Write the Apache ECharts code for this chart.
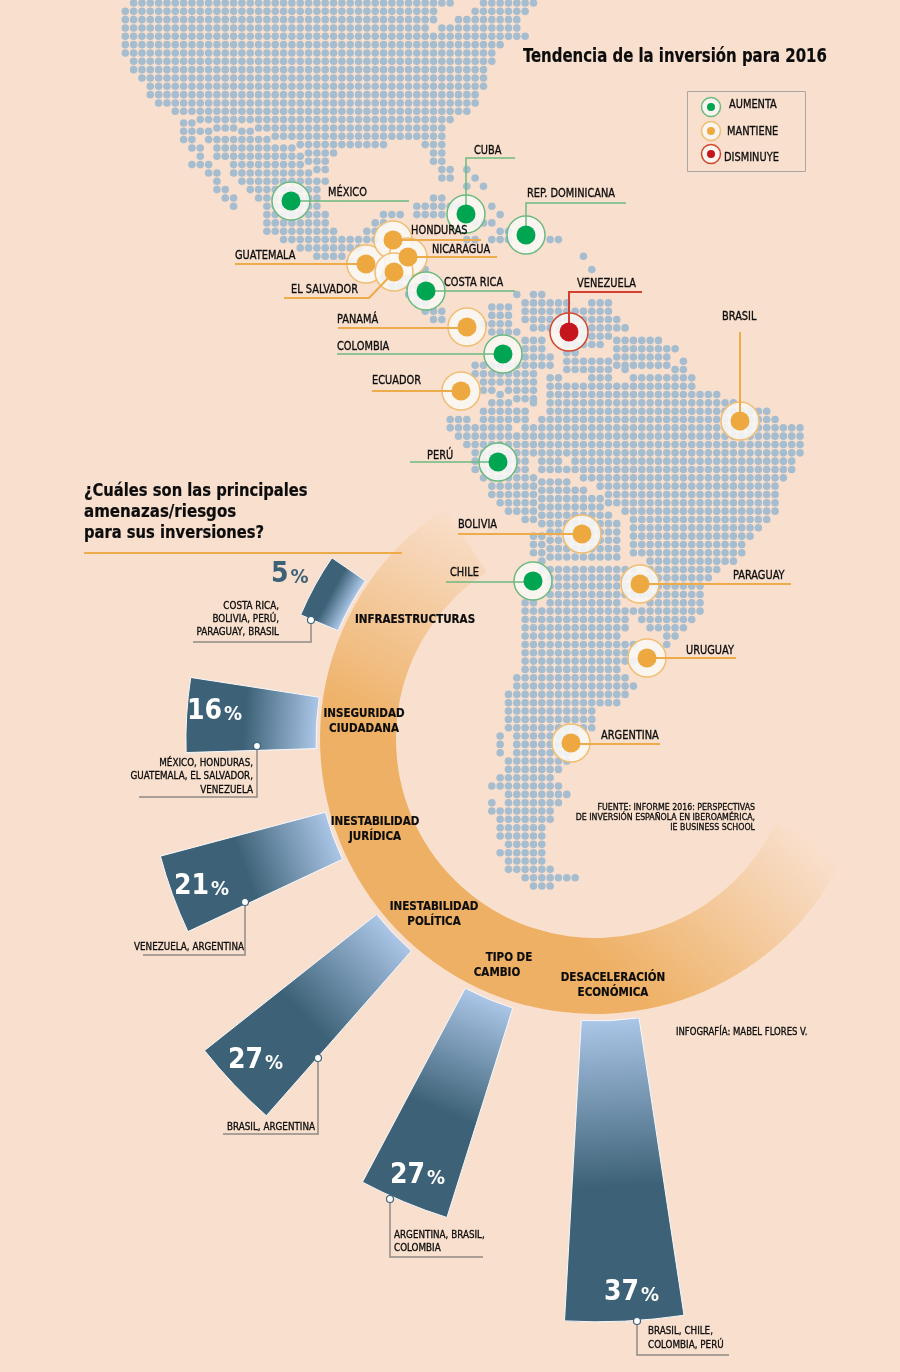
<!DOCTYPE html>
<html>
<head>
<meta charset="utf-8">
<title>Tendencia de la inversión para 2016</title>
<script src="https://cdn.jsdelivr.net/npm/echarts@6/dist/echarts.min.js"></script>
<style>
html,body{margin:0;padding:0;background:#F9E0CE}
#chart{width:900px;height:1372px}
</style>
</head>
<body>
<div id="chart"></div>
<script>
// dot map cells: [row, from, to, from, to ...]
var landRows = [
[0,1,39,43,49],[1,0,37,42,48],[2,0,37,40,47],[3,0,36,38,47],[4,0,48],[5,0,45],[6,0,44],[7,1,44],[8,1,43],[9,2,43],
[10,3,43],[11,3,42],[12,4,42],[13,6,41],[14,9,39],[14.4,7,8],[15,11,13,16,38],[15.4,7,10,14,15],[16,18,38],[16.4,7,8,10,17],
[17,21,31,36,38],[17.4,8,9,11,20],[18,22,25,37,38],[18.4,9,9,11,21],[19,22,24,37,38],[19.4,8,10,13,21],
[20,23,24,38,39,41,41],[20.4,10,11,13,22],[21,38,39,42,42],[21.4,11,11,14,24],[22,41,41,43,43],[22.4,11,12,15,23],
[23.4,12,13,16,23,37,38],[24.4,13,13,17,23,35,40,44,44],[25.4,17,24,31,33,35,38,45,45],[26.4,17,24,30,31,42,44],
[27.4,17,25,29,30,45,46],[28.4,19,30,41,42,44,46,51,52],[29.4,21,28],[30.4,23,26,55,55],[31,27,29],[32,29,32,36,36,56,56],
[33,31,34,36,36],[34,32,35],[35,34,36,47,47,49,50],[36,35,36,48,53,56,58],[36.5,44,46],[37,36,38,48,58],[37.5,44,46],
[38,37,38,48,59],[38.5,43,46],[39,49,60],[39.5,44,47],[40,53,58],[40.5,48,50,59,64],[41,53,57],[41.5,48,50,59,66],
[42,53,54],[42.5,48,51,59,65],[43,53,58,67,67],[43.5,42,51,59,65],[44,53,58,60,60,66,67],[44.5,42,49],
[45,51,52,56,58,61,68],[45.5,43,49],[46,51,68],[46.5,43,44,46,49],[47,45,45,51,71],[47.5,47,49],[48,44,46,49,49,51,73],
[49,43,48,51,77],[50,39,41,43,48,50,78],[51,39,46,48,81],[52,40,81],[53,41,81],[54,42,81],[55,42,48,50,52,54,80],
[56,42,48,50,80],[57,43,49,55,79],[57.5,50,53],[58,44,49,57,78],[58.5,50,55],[59,44,49,58,78],[59.5,50,57],
[60,45,49,58,78],[60.5,50,57],[61,46,49,60,78],[61.5,50,58],[62,48,49,61,77],[62.5,50,59],[63,61,76],[63.5,51,59],
[64,49,50,61,75],[64.5,51,59],[65,49,50,61,74],[65.5,51,59],[66,49,50,61,74],[66.5,51,59],[67,50,50,63,73],
[68,50,61,63,71],[69,51,70],[70,51,60,62,69],[71,51,69],[72,48,49,51,59,63,69],[73,48,69],
[74,48,60,62,68],[75,48,60,63,67],[76,48,59,65,66],[77,48,61,65,65],[78,48,60],[79,48,62],[80,48,59],[81,47,60],
[82,47,61],[83,46,60],[84,46,59],[85,46,56],[86,46,56],[87,46,56],[88,45,45,47,54],[89,45,45,47,54],[90,45,45,47,53],
[91,46,53],[92,46,52],[93,45,51],[94,44,52],[95,46,53],[96,44,44,46,52],[97,44,51],[98,45,51],[99,45,50],[100,45,50],
[101,46,50],[102,45,50],[103,46,50],[104,46,51],[105,48,54],[106,49,51]
];

var countryNames = ['MÉXICO','CUBA','REP. DOMINICANA','GUATEMALA','HONDURAS','NICARAGUA','EL SALVADOR','COSTA RICA','PANAMÁ','COLOMBIA','VENEZUELA','ECUADOR','BRASIL','PERÚ','BOLIVIA','CHILE','PARAGUAY','URUGUAY','ARGENTINA'];
var countryTrend = ['up','up','up','same','same','same','same','up','same','up','down','same','same','up','same','up','same','same','same'];
var countryX = [291,466,526,366,393,408,394,426,467,503,569,461,740,498,582,533,640,647,571];
var countryY = [201,214,235,264,240,257,272,291,327,354,332,391,421,462,534,581,584,658,743];
// label left edge and middle for each country
var labelX = [328,474,527,235,411,432,291,444,337,337,577,372,722,427,458,450,733,686,601];
var labelY = [193,151,194,256,231,250,290,283,320,347,284,381,317,456,525,573,576,651,736];
// leader paths drawn from the marker out to the label rule
var leaderPaths = [
[[300,201],[409,201]],[[466,214],[466,158],[515,158]],[[526,235],[526,203],[626,203]],[[235,264],[366,264]],
[[393,240],[481,240]],[[408,257],[497,257]],[[284,298],[369,298],[394,272]],[[426,291],[515,291]],[[338,328],[467,328]],
[[337,354],[503,354]],[[569,332],[569,292],[642,292]],[[372,391],[461,391]],[[740,421],[740,332]],[[410,462],[498,462]],
[[458,534],[582,534]],[[446,582],[533,582]],[[640,584],[791,584]],[[647,658],[736,658]],[[571,744],[660,744]]
];

var trendKeys = ['up','same','down'];
var trendNames = ['AUMENTA','MANTIENE','DISMINUYE'];

var threatNames = ['INFRAESTRUCTURAS','INSEGURIDAD CIUDADANA','INESTABILIDAD JURÍDICA','INESTABILIDAD POLÍTICA','TIPO DE CAMBIO','DESACELERACIÓN ECONÓMICA'];
var threatShares = [5,16,21,27,27,37];
var threatCountries = [
['COSTA RICA,','BOLIVIA, PERÚ,','PARAGUAY, BRASIL'],
['MÉXICO, HONDURAS,','GUATEMALA, EL SALVADOR,','VENEZUELA'],
['VENEZUELA, ARGENTINA'],
['BRASIL, ARGENTINA'],
['ARGENTINA, BRASIL,','COLOMBIA'],
['BRASIL, CHILE,','COLOMBIA, PERÚ']
];
// where each wedge points and how wide it opens, degrees
var barAngles = [151.3,176.5,200,223.5,247.3,272.7];
var barSpreads = [11.6,10.5,10.2,10.3,10.5,11.8];

var FONT = '"DejaVu Sans Condensed"';
var trendDot = {up:'#00A551',same:'#EDA93F',down:'#C4161C'};
var trendRing = {up:'#6CBA80',same:'#F0BD72',down:'#D2452F'};
var trendLine = {up:'#6CBA80',same:'#EDAB4A',down:'#D2402F'};
var BG = '#F9E0CE', RING = '#EEB064', STEEL = '#3D6277';
var RING_CLEAR = 'rgba(238,176,100,0)';

// polar frame shared by the bars
var cx = 597, cy = 740, rBase = 281, pxPerPct = 8.13;

var landData = [];
landRows.forEach(function(r){
	for(var i=1;i<r.length;i+=2){
		for(var c=r[i];c<=r[i+1];c++) landData.push([c,r[0]]);
	}
});

function barGradient(i,v){
	var a = barAngles[i]*Math.PI/180;
	var r2 = rBase+v*pxPerPct;
	return new echarts.graphic.LinearGradient(
		cx+rBase*Math.cos(a),cy-rBase*Math.sin(a),cx+r2*Math.cos(a),cy-r2*Math.sin(a),
		[{offset:0,color:'#AAC5E6'},{offset:0.55,color:STEEL},{offset:1,color:STEEL}],true);
}
function ringFade(x,y,x2,y2,from,to){
	return new echarts.graphic.LinearGradient(x,y,x2,y2,[{offset:0,color:from},{offset:1,color:to}],true);
}

var texts = [];
function label(x,y,str,size,opt){
	opt = opt||{};
	var fill = opt.fill||'#0c0c0c';
	texts.push({type:'text',z:50,x:x,y:y,scaleX:opt.sx||1,silent:true,style:{
		text:str,
		fill:fill,
		stroke:fill,
		lineWidth:opt.bold?0.2:0.3,
		font:(opt.bold?'bold ':'')+size+'px '+FONT,
		align:opt.align||'left',
		verticalAlign:'middle'
	}});
}

countryNames.forEach(function(n,i){ label(labelX[i],labelY[i],n,11.5,{sx:0.95}); });

label(523,57,'Tendencia de la inversión para 2016',20,{bold:true,sx:0.83});
label(84,491,'¿Cuáles son las principales',18,{bold:true,sx:0.91});
label(84,512,'amenazas/riesgos',18,{bold:true,sx:0.93});
label(84,533,'para sus inversiones?',18,{bold:true,sx:0.91});

label(729,105,trendNames[0],11.5,{sx:0.95});
label(727,132,trendNames[1],11.5,{sx:0.95});
label(724,158,trendNames[2],11.5,{sx:0.95});

// ring captions
var ringCap = {bold:true,align:'center',sx:0.96};
label(415,620,'INFRAESTRUCTURAS',12,ringCap);
label(364,714,'INSEGURIDAD',12,ringCap);
label(364,729,'CIUDADANA',12,ringCap);
label(375,822,'INESTABILIDAD',12,ringCap);
label(375,837,'JURÍDICA',12,ringCap);
label(434,907,'INESTABILIDAD',12,ringCap);
label(434,922,'POLÍTICA',12,ringCap);
label(509,958,'TIPO DE',12,ringCap);
label(497,973,'CAMBIO',12,ringCap);
label(613,978,'DESACELERACIÓN',12,ringCap);
label(613,993,'ECONÓMICA',12,ringCap);

// percentages
var pctX = [271,187,174,228,390,604];
var pctY = [575,712,887,1061,1176,1293];
threatShares.forEach(function(v,i){
	var col = i===0?STEEL:'#fff';
	texts.push({type:'text',z:50,x:pctX[i],y:pctY[i],silent:true,style:{
		text:'{n|'+v+'}{p|%}',
		verticalAlign:'middle',
		rich:{
			n:{font:'bold 28px '+FONT,fill:col},
			p:{font:'bold 20px '+FONT,fill:col,padding:[6,0,0,2]}
		}
	}});
});

// country lists under each bar
var listX = [279,253,244,315,394,648];
var listAlign = ['right','right','right','right','left','left'];
var listY = [606,763,947,1127,1235,1331];
var listStep = [13,13.5,0,0,13,14];
threatCountries.forEach(function(lines,i){
	lines.forEach(function(t,j){
		label(listX[i],listY[i]+j*listStep[i],t,10.5,{align:listAlign[i],sx:0.93});
	});
});
var calloutPaths = [
[[311,620],[311,642],[193,642]],
[[257,746],[257,797],[139,797]],
[[245,902],[245,955],[143,955]],
[[318,1058],[318,1134],[223,1134]],
[[390,1199],[390,1257],[483,1257]],
[[637,1321],[637,1355],[729,1355]]
];

label(755,808,'FUENTE: INFORME 2016: PERSPECTIVAS',9.5,{align:'right',sx:0.92});
label(755,817.5,'DE INVERSIÓN ESPAÑOLA EN IBEROAMÉRICA,',9.5,{align:'right',sx:0.92});
label(755,827.5,'IE BUSINESS SCHOOL',9.5,{align:'right',sx:0.92});
label(676,1032,'INFOGRAFÍA: MABEL FLORES V.',10.5,{sx:0.9});

texts.push({type:'rect',z:3,silent:true,shape:{x:687.5,y:91.5,width:118,height:80},style:{fill:'transparent',stroke:'#ABA6A1',lineWidth:1}});

function pathLines(z,data){
	return {type:'lines',z:z,silent:true,coordinateSystem:'cartesian2d',xAxisIndex:1,yAxisIndex:1,polyline:true,data:data};
}
function ringPart(start,sweep,fill){
	return {
		type:'pie',z:1,silent:true,center:[595,739],radius:[199,275],startAngle:start,clockwise:false,
		label:{show:false},labelLine:{show:false},
		data:[{value:sweep,itemStyle:{color:fill}},{value:360-sweep,itemStyle:{color:'transparent'}}]
	};
}

// every wedge has its own polar frame so it can point and open on its own
var polars = [], angleAxes = [], radiusAxes = [], barSeries = [];
threatShares.forEach(function(v,i){
	polars.push({center:[cx,cy],radius:rBase+40*pxPerPct});
	angleAxes.push({polarIndex:i,type:'category',data:[threatNames[i]],startAngle:barAngles[i]-180,clockwise:false,show:false});
	radiusAxes.push({polarIndex:i,type:'value',min:-rBase/pxPerPct,max:40,show:false});
	barSeries.push({
		type:'bar',z:3,silent:true,coordinateSystem:'polar',polarIndex:i,barWidth:(barSpreads[i]/3.6)+'%',
		itemStyle:{borderColor:'#F5F8FB',borderWidth:1},
		data:[{value:v,itemStyle:{color:barGradient(i,v)}}]
	});
});

var chart = echarts.init(document.getElementById('chart'),null,{renderer:'canvas'});
chart.setOption({
	animation:false,
	backgroundColor:BG,
	tooltip:{show:false},
	grid:[
		{left:0,right:0,top:0,bottom:0},
		{left:0,right:0,top:0,bottom:0}
	],
	xAxis:[
		{type:'value',show:false,min:-15.04,max:93,gridIndex:0},
		{type:'value',show:false,min:0,max:900,gridIndex:1}
	],
	yAxis:[
		{type:'value',show:false,min:-0.36,max:164.34,inverse:true,gridIndex:0},
		{type:'value',show:false,min:0,max:1372,inverse:true,gridIndex:1}
	],
	polar:polars,
	angleAxis:angleAxes,
	radiusAxis:radiusAxes,
	series:[
		ringPart(123,133,ringFade(452,505,345,720,RING_CLEAR,RING)),
		ringPart(252,83,ringFade(650,1010,812,838,RING,RING_CLEAR)),
		{
			type:'scatter',z:2,silent:true,xAxisIndex:0,yAxisIndex:0,symbolSize:7.6,
			itemStyle:{color:'#A6BDD0',opacity:1},data:landData
		}
	].concat(barSeries).concat([
		pathLines(4,calloutPaths.map(function(p){ return {coords:p,lineStyle:{color:'#8F8985',width:1.5,opacity:1}}; })),
		{
			type:'scatter',z:5,silent:true,xAxisIndex:1,yAxisIndex:1,symbolSize:7,
			itemStyle:{color:'#fff',borderColor:STEEL,borderWidth:1.2,opacity:1},
			data:calloutPaths.map(function(p){ return p[0]; })
		},
		pathLines(5,[{coords:[[84,553],[402,553]],lineStyle:{color:'#EDAB4A',width:2,opacity:1}}]),
		{
			type:'scatter',z:6,silent:true,xAxisIndex:1,yAxisIndex:1,symbolSize:38,
			data:countryNames.map(function(n,i){
				return {name:n,value:[countryX[i],countryY[i]],itemStyle:{color:'rgba(251,248,246,0.86)',borderColor:trendRing[countryTrend[i]],borderWidth:1.5,opacity:1}};
			})
		},
		pathLines(7,leaderPaths.map(function(p,i){ return {coords:p,lineStyle:{color:trendLine[countryTrend[i]],width:countryTrend[i]==='up'?1.5:2,opacity:1}}; })),
		{
			type:'scatter',z:8,silent:true,xAxisIndex:1,yAxisIndex:1,symbolSize:19,
			data:countryNames.map(function(n,i){
				return {name:n,value:[countryX[i],countryY[i]],itemStyle:{color:trendDot[countryTrend[i]],opacity:1}};
			})
		},
		// legend swatches
		{
			type:'scatter',z:6,silent:true,xAxisIndex:1,yAxisIndex:1,symbolSize:19,
			data:trendKeys.map(function(k,i){
				return {value:[711,[107,131,154][i]],itemStyle:{color:'rgba(251,248,246,0.86)',borderColor:trendRing[k],borderWidth:1.5,opacity:1}};
			})
		},
		{
			type:'scatter',z:8,silent:true,xAxisIndex:1,yAxisIndex:1,symbolSize:8,
			data:trendKeys.map(function(k,i){
				return {value:[711,[107,131,154][i]],itemStyle:{color:trendDot[k],opacity:1}};
			})
		}
	]),
	graphic:{elements:texts}
});
</script>
</body>
</html>
